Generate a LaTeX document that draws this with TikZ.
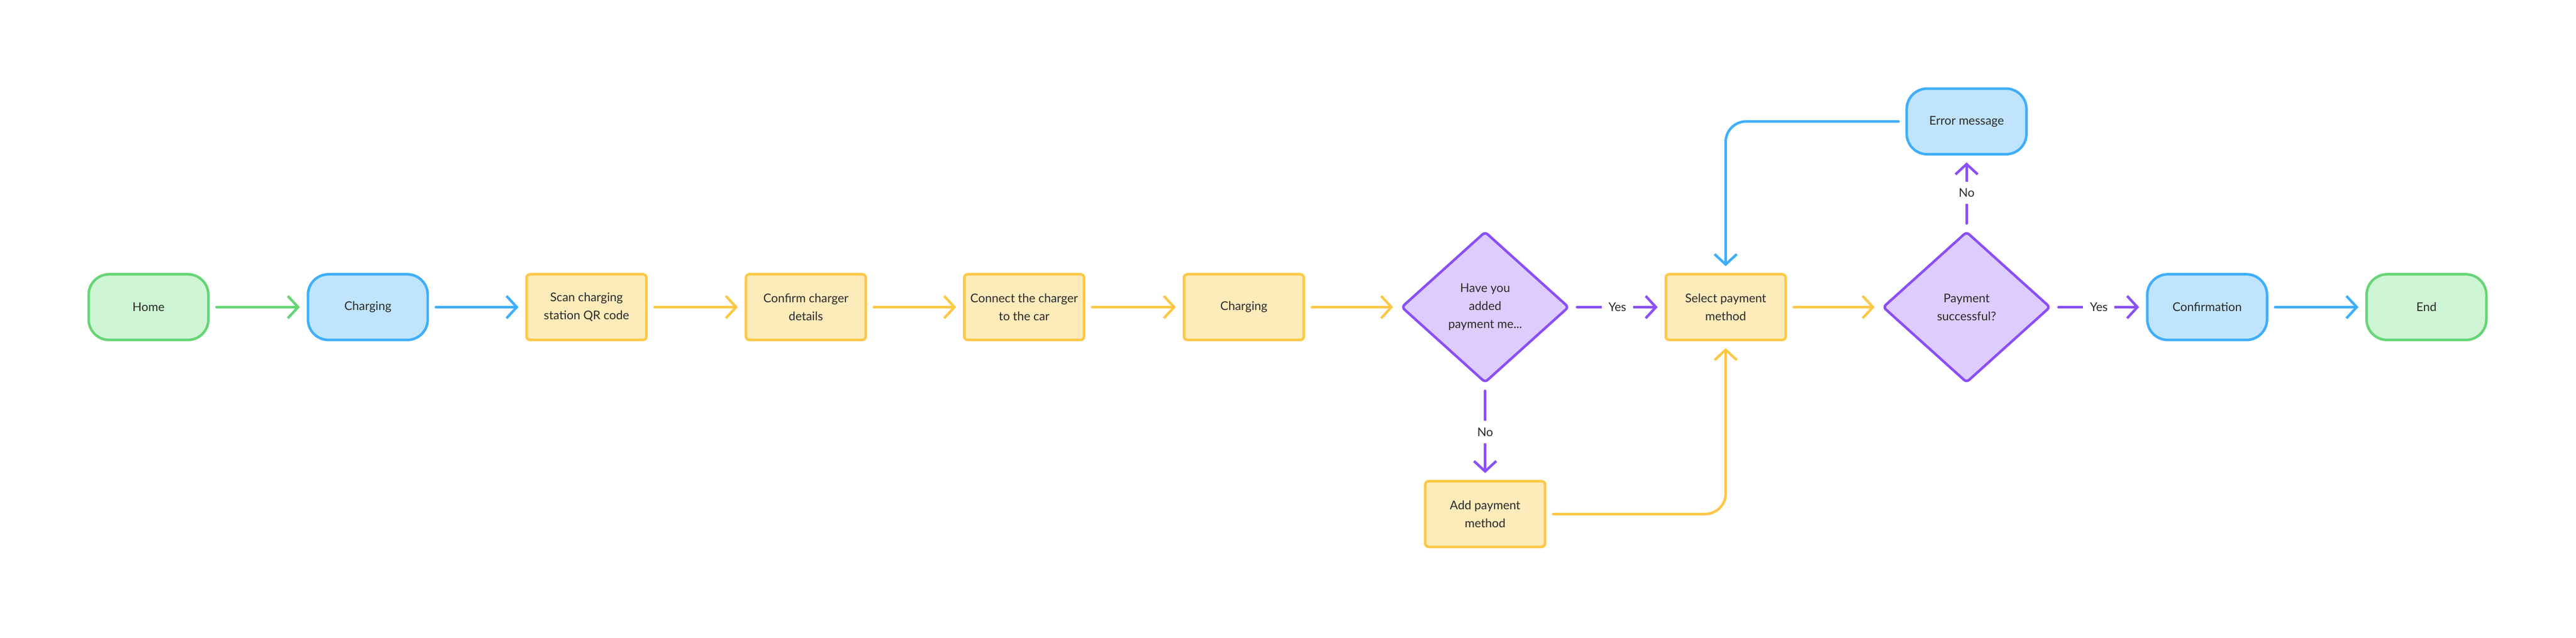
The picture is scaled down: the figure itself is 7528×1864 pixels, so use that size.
\documentclass[tikz,border=0pt]{standalone}
\usepackage{fontspec}
\setmainfont{Lato}
\usetikzlibrary{arrows.meta,shapes.geometric}
\definecolor{gF}{HTML}{CEF5D4}\definecolor{gS}{HTML}{66D575}
\definecolor{bF}{HTML}{C0E4FD}\definecolor{bS}{HTML}{3FAEFC}
\definecolor{yF}{HTML}{FDEBBA}\definecolor{yS}{HTML}{FDC846}
\definecolor{pF}{HTML}{DDCCFD}\definecolor{pS}{HTML}{8A4FF7}
\definecolor{tx}{HTML}{2A2A2A}
\begin{document}
\begin{tikzpicture}[x=0.1mm,y=-0.1mm,line width=0.75mm,
  base/.style={font=\fontsize{10}{15}\selectfont,text=tx,align=center,minimum width=35mm,minimum height=19.2mm,inner sep=0pt},
  term/.style={base,rounded corners=6mm},
  gt/.style={term,fill=gF,draw=gS},
  bt/.style={term,fill=bF,draw=bS},
  yb/.style={base,rounded corners=1mm,fill=yF,draw=yS},
  dia/.style={base,diamond,fill=pF,draw=pS,minimum width=49mm,minimum height=44.2mm,rounded corners=1mm,aspect=1.1},
  ar/.style={-{Straight Barb[length=3mm,width=6.5mm,line width=0.75mm]},line cap=round,shorten <=2mm,shorten >=2mm},
  lab/.style={font=\fontsize{10}{12}\selectfont,text=tx,fill=white,inner sep=2mm}]
\useasboundingbox (0,0) rectangle (7528,1864);
\node[gt] (home) at (434,898) {Home};
\node[bt] (ch1) at (1075,898) {Charging};
\node[yb] (scan) at (1714,898) {Scan charging\\station QR code};
\node[yb] (conf) at (2355,898) {Confirm charger\\details};
\node[yb] (conn) at (2993,898) {Connect the charger\\to the car};
\node[yb] (ch2) at (3635,898) {Charging};
\node[dia] (d1) at (4340,898) {Have you\\added\\payment me...};
\node[yb] (sel) at (5043,898) {Select payment\\method};
\node[dia] (d2) at (5747,898) {Payment\\successful?};
\node[bt] (cfm) at (6450,898) {Confirmation};
\node[gt] (end) at (7091,898) {End};
\node[bt] (err) at (5747,355) {Error message};
\node[yb] (add) at (4340,1503) {Add payment\\method};
\draw[ar,gS] (home) -- (ch1);
\draw[ar,bS] (ch1) -- (scan);
\draw[ar,yS] (scan) -- (conf);
\draw[ar,yS] (conf) -- (conn);
\draw[ar,yS] (conn) -- (ch2);
\draw[ar,yS] (ch2) -- (d1);
\draw[ar,pS] (d1) -- node[lab]{Yes} (sel);
\draw[ar,yS] (sel) -- (d2);
\draw[ar,pS] (d2) -- node[lab]{Yes} (cfm);
\draw[ar,bS] (cfm) -- (end);
\draw[ar,pS] (d1) -- node[lab]{No} (add);
\draw[ar,pS] (d2) -- node[lab]{No} (err);
\draw[ar,bS,rounded corners=6mm] (err.west) -- (sel.north |- err.west) -- (sel.north);
\draw[ar,yS,rounded corners=6mm] (add.east) -- (sel.south |- add.east) -- (sel.south);
\end{tikzpicture}
\end{document}
